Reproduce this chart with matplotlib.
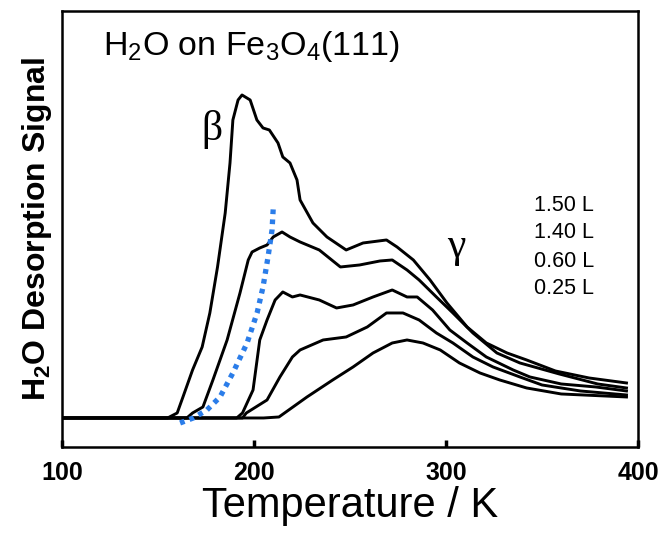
import matplotlib
matplotlib.use('Agg')
import matplotlib.pyplot as plt

plt.rcParams['font.family'] = ['Liberation Sans', 'DejaVu Sans']
plt.rcParams['mathtext.default'] = 'regular'

# TPD traces, temperature (K) vs. desorption signal (arb. units)
t_a = [100, 130, 155, 160, 163, 168, 173, 177, 181, 185, 187.5, 189, 191.7, 193.75, 198,
       201.5, 204.7, 208, 212.5, 215, 218.75, 222.4, 224, 230.7, 238, 248, 256.8, 269,
       274.5, 283, 291.7, 300.5, 311, 321, 331.8, 342, 357, 374.5, 394]
s_a = [0.29, 0.29, 0.29, 0.34, 0.50, 0.77, 1.00, 1.34, 1.80, 2.34, 2.84, 3.27, 3.47, 3.52,
       3.47, 3.27, 3.19, 3.17, 3.04, 2.90, 2.84, 2.67, 2.47, 2.24, 2.10, 1.97, 2.04, 2.07,
       2.00, 1.87, 1.67, 1.44, 1.20, 1.04, 0.94, 0.87, 0.76, 0.69, 0.64]

t_b = [100, 165, 168, 173.4, 178.6, 186, 192.7, 197, 199, 203, 206.8, 210, 214.6, 218.75,
       224, 234, 245, 255, 265.6, 272, 279.7, 286, 295, 303.6, 314, 326.5, 338.5, 359, 379, 394]
s_b = [0.29, 0.29, 0.34, 0.40, 0.67, 1.07, 1.54, 1.87, 1.95, 1.99, 2.02, 2.10, 2.15, 2.10,
       2.05, 1.97, 1.80, 1.82, 1.86, 1.87, 1.77, 1.67, 1.50, 1.34, 1.14, 0.94, 0.84, 0.73,
       0.63, 0.59]

t_c = [100, 191, 194, 199.5, 203, 206.8, 211, 215, 220, 224, 234, 243, 251.6, 262, 272,
       279.7, 285, 293, 302, 311, 321, 335, 343.7, 360, 378, 394]
s_c = [0.29, 0.29, 0.34, 0.57, 1.07, 1.27, 1.47, 1.55, 1.50, 1.52, 1.47, 1.39, 1.42, 1.50,
       1.57, 1.50, 1.50, 1.37, 1.17, 1.04, 0.90, 0.77, 0.70, 0.63, 0.60, 0.56]

t_d = [100, 194, 196, 206.8, 213.5, 220, 224, 236, 248, 259, 269, 277.6, 286, 295, 303.6,
       314, 324.5, 338.5, 350, 370, 394]
s_d = [0.29, 0.29, 0.34, 0.47, 0.70, 0.90, 0.97, 1.07, 1.10, 1.20, 1.34, 1.34, 1.27, 1.14,
       1.04, 0.90, 0.80, 0.70, 0.62, 0.56, 0.52]

t_e = [100, 205, 213, 227.6, 241, 251.6, 262, 272, 279.7, 288, 297, 307, 317.7, 328, 342,
       360, 394]
s_e = [0.29, 0.29, 0.30, 0.50, 0.67, 0.80, 0.94, 1.04, 1.07, 1.04, 0.97, 0.84, 0.74, 0.67,
       0.59, 0.53, 0.50]

# leading-edge guide (blue dotted)
t_edge = [161.5, 168.4, 175.5, 182.3, 189, 196.4, 201.6, 204.7, 207.3, 209.4, 210]
s_edge = [0.24, 0.29, 0.37, 0.50, 0.74, 1.04, 1.34, 1.60, 1.90, 2.17, 2.38]

exposures = ['1.50 L', '1.40 L', '0.60 L', '0.25 L']
label_s = [2.41, 2.14, 1.85, 1.58]
xticks = [100, 200, 300, 400]

fig = plt.figure(figsize=(6.61, 5.33), dpi=100)
ax = fig.add_axes([0.0938, 0.1614, 0.8714, 0.8180])

for t, s in [(t_a, s_a), (t_b, s_b), (t_c, s_c), (t_d, s_d), (t_e, s_e)]:
    ax.plot(t, s, color='black', lw=2.1, solid_joinstyle='round')

ax.plot(t_edge, s_edge, color='#2b7de9', lw=3.8, linestyle=(0, (0.9, 1.0)),
        dash_capstyle='butt')

ax.set_xlim(100, 400)
ax.set_ylim(0, 4.36)
ax.set_xticks(xticks)
ax.set_xticklabels([str(x) for x in xticks], fontsize=18, fontweight='bold')
ax.set_yticks([])
ax.tick_params(axis='x', direction='in', length=5, width=2.5, pad=10)
for sp in ax.spines.values():
    sp.set_linewidth(1.8)

ax.set_xlabel('Temperature / K', fontsize=30, labelpad=1)
ax.set_ylabel('H$_2$O Desorption Signal', fontsize=23, fontweight='bold', labelpad=6)

ax.text(0.071, 0.90, 'H$_2$O on Fe$_3$O$_4$(111)', transform=ax.transAxes,
        fontsize=24.5, ha='left', va='baseline')
ax.text(178, 3.17, 'β', fontsize=30, family='Liberation Serif', ha='center', va='center')
ax.text(305.5, 2.0, 'γ', fontsize=30, family='Liberation Serif', ha='center', va='center')

for lab, s in zip(exposures, label_s):
    ax.text(346, s, lab, fontsize=15.5, ha='left', va='center')

fig.savefig('out.png', dpi=100)
